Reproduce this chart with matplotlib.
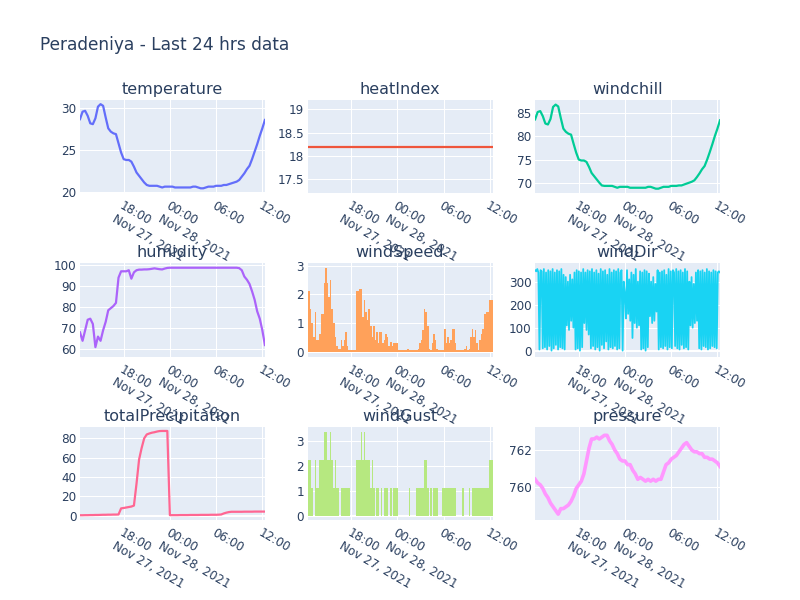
import matplotlib
matplotlib.use("Agg")
import matplotlib.pyplot as plt
import numpy as np
from matplotlib.transforms import offset_copy

plt.rcParams['font.family'] = ['DejaVu Sans']

# ---------------- data (hours since Nov 27 2021 00:00) ----------------
t_start, t_end = 12.333, 36.333

x_ticks = [18, 24, 30, 36]
x_tick_labels = ["18:00\nNov 27, 2021", "00:00\nNov 28, 2021", "06:00", "12:00"]

temperature = [
    28.7, 29.6, 29.7, 29.1, 28.2, 28.1, 28.8, 30.2, 30.5, 30.3,
    28.9, 27.6, 27.2, 27.0, 26.9, 25.8, 24.7, 23.9, 23.8, 23.8,
    23.6, 23.0, 22.3, 21.9, 21.5, 21.1, 20.8, 20.7, 20.7, 20.7,
    20.7, 20.6, 20.5, 20.6, 20.6, 20.6, 20.6, 20.5, 20.5, 20.5,
    20.5, 20.5, 20.5, 20.5, 20.6, 20.6, 20.5, 20.4, 20.4, 20.5,
    20.6, 20.6, 20.6, 20.7, 20.7, 20.7, 20.8, 20.8, 20.9, 21.0,
    21.1, 21.2, 21.4, 21.8, 22.2, 22.7, 23.1, 23.9, 24.8, 25.7,
    26.7, 27.6, 28.6]

heat_index = [18.2, 18.2]

windchill = [
    83.7, 85.3, 85.5, 84.4, 82.8, 82.6, 83.8, 86.4, 86.9, 86.5,
    84.0, 81.7, 81.0, 80.6, 80.4, 78.4, 76.5, 75.0, 74.8, 74.8,
    74.5, 73.4, 72.1, 71.4, 70.7, 70.0, 69.4, 69.3, 69.3, 69.3,
    69.3, 69.1, 68.9, 69.1, 69.1, 69.1, 69.1, 68.9, 68.9, 68.9,
    68.9, 68.9, 68.9, 68.9, 69.1, 69.1, 68.9, 68.7, 68.7, 68.9,
    69.1, 69.1, 69.1, 69.3, 69.3, 69.3, 69.4, 69.4, 69.6, 69.8,
    70.0, 70.2, 70.5, 71.2, 72.0, 72.9, 73.6, 75.0, 76.6, 78.3,
    80.1, 81.7, 83.5]

humidity = [
    68.0, 64.0, 69.0, 74.0, 74.5, 72.0, 61.0, 66.0, 64.0, 69.0,
    73.0, 78.5, 79.5, 80.5, 82.0, 94.0, 97.0, 97.0, 97.0, 97.5,
    93.5, 96.5, 97.5, 97.8, 97.8, 97.9, 97.9, 98.0, 98.2, 98.4,
    98.2, 98.0, 97.9, 98.3, 98.6, 98.7, 98.7, 98.7, 98.7, 98.7,
    98.7, 98.7, 98.7, 98.7, 98.7, 98.7, 98.7, 98.7, 98.7, 98.7,
    98.7, 98.7, 98.7, 98.7, 98.7, 98.7, 98.7, 98.7, 98.7, 98.7,
    98.7, 98.7, 98.5, 97.5, 94.5, 93.0, 91.0, 87.5, 83.5, 78.0,
    74.5, 69.0, 62.0]

total_precipitation = [
    0.5, 0.5, 0.6, 0.6, 0.7, 0.7, 0.8, 0.8, 0.9, 1.0,
    1.0, 1.1, 1.1, 1.2, 1.2, 1.3, 7.6, 8.0, 8.5, 9.0,
    9.5, 10.5, 33.0, 58.0, 70.0, 80.0, 84.0, 85.0, 85.8, 86.3,
    87.0, 87.5, 87.6, 87.6, 87.6, 0.6, 0.6, 0.6, 0.6, 0.7,
    0.7, 0.7, 0.7, 0.8, 0.8, 0.8, 0.8, 0.9, 0.9, 0.9,
    0.9, 1.0, 1.0, 1.0, 1.1, 1.3, 2.4, 3.2, 3.8, 4.1,
    4.1, 4.1, 4.1, 4.1, 4.2, 4.2, 4.2, 4.2, 4.3, 4.3,
    4.3, 4.3, 4.3]

pressure = [
    760.4, 760.2, 760.1, 759.9, 759.6, 759.4, 759.1, 758.9, 758.7, 758.5,
    758.8, 758.8, 758.9, 759.0, 759.2, 759.5, 759.9, 760.1, 760.3, 760.7,
    761.4, 762.1, 762.6, 762.6, 762.7, 762.6, 762.7, 762.8, 762.8, 762.5,
    762.3, 762.0, 761.8, 761.5, 761.4, 761.4, 761.2, 761.2, 760.9, 760.7,
    760.4, 760.5, 760.4, 760.3, 760.4, 760.3, 760.4, 760.3, 760.4, 760.4,
    760.8, 761.2, 761.3, 761.5, 761.6, 761.7, 761.9, 762.1, 762.3, 762.4,
    762.2, 762.0, 761.9, 761.9, 761.8, 761.8, 761.6, 761.6, 761.5, 761.5,
    761.4, 761.3, 761.1]

wind_speed = [
    1.7, 2.1, 1.5, 1.0, 0.5, 1.4, 0.4, 0.4, 0.6, 1.3,
    1.3, 2.4, 2.9, 2.4, 1.9, 2.5, 1.5, 1.0, 0.5, 0.2,
    0.1, 0.1, 0.4, 0.2, 0.4, 0.7, 0.2, 0.05, 0.05, 0.05,
    0.05, 0.05, 2.1, 2.1, 2.2, 2.2, 1.2, 1.8, 1.4, 1.1,
    1.5, 0.9, 0.5, 0.9, 0.4, 0.7, 0.3, 0.7, 0.7, 0.3,
    0.4, 0.6, 0.5, 0.2, 0.35, 0.2, 0.3, 0.3, 0.3, 0.05,
    0.05, 0.05, 0.05, 0.05, 0.05, 0.1, 0.05, 0.05, 0.05, 0.05,
    0.05, 0.05, 0.1, 0.3, 0.4, 0.75, 1.5, 1.4, 0.9, 0.1,
    0.05, 0.3, 0.6, 0.4, 0.1, 0.05, 0.05, 0.05, 0.05, 0.8,
    0.3, 0.5, 0.3, 0.4, 0.8, 0.8, 0.3, 0.05, 0.05, 0.05,
    0.05, 0.05, 0.1, 0.2, 0.05, 0.1, 0.5, 0.8, 0.5, 0.75,
    0.3, 0.05, 0.4, 0.6, 0.8, 1.3, 1.4, 1.4, 1.8, 1.8,
    1.8]

wind_gust = [
    2.24, 2.24, 2.24, 1.12, 0, 2.24, 1.12, 1.12, 2.24, 2.24,
    2.24, 3.36, 3.36, 2.24, 2.24, 3.36, 2.24, 1.12, 2.24, 1.12,
    1.12, 0, 1.12, 1.12, 1.12, 1.12, 1.12, 1.12, 0, 0,
    0, 0, 2.24, 2.24, 2.24, 3.36, 2.24, 3.36, 2.24, 2.24,
    2.24, 1.12, 2.24, 1.12, 0, 1.12, 1.12, 0, 1.12, 0,
    1.12, 1.12, 1.12, 0, 1.12, 0, 1.12, 1.12, 1.12, 0,
    0, 0, 0, 0, 0, 0, 1.12, 0, 0, 0,
    0, 1.12, 1.12, 1.12, 1.12, 1.12, 2.24, 2.24, 1.12, 0,
    1.12, 0, 1.12, 1.12, 1.12, 0, 0, 0, 1.12, 1.12,
    1.12, 1.12, 1.12, 1.12, 1.12, 1.12, 1.12, 0, 0, 0,
    0, 1.12, 0, 0, 0, 1.12, 0, 1.12, 1.12, 1.12,
    1.12, 1.12, 1.12, 1.12, 1.12, 1.12, 1.12, 1.12, 2.24, 2.24,
    2.24]

wind_dir = [
    350, 345, 355, 340, 5, 350, 345, 10,
    355, 15, 340, 5, 350, 20, 345, 0, 355, 10, 340, 25, 350, 5, 345, 15, 355, 10, 330, 5,
    320, 110, 300, 90, 330, 130, 310, 100, 340,
    5, 350, 10, 345, 0, 340, 15, 355,
    120, 340, 90, 350, 70,
    345, 10, 355, 20, 340, 5, 350, 15, 335, 0, 355, 25, 345, 10, 350, 40,
    330, 5, 355, 15, 340, 10, 350, 20, 345, 5, 355, 10, 340, 350, 0,
    300, 250, 140, 350, 160, 310, 130, 340,
    55, 330, 120, 355, 100, 300, 110,
    345, 5, 340, 10, 350, 0, 345, 15, 335,
    150, 300, 120, 320, 130, 290, 170, 350,
    5, 340, 15, 345, 10, 350, 20, 330, 5, 355, 15, 345, 10, 350, 340,
    20, 355, 10, 345, 5, 350, 25, 340, 10, 355, 15, 345, 5, 300,
    110, 320, 100, 290, 120, 340, 130,
    350, 10, 345, 5, 350, 20, 340, 15, 355, 5, 345, 10, 340, 20, 350,
    15, 345, 10, 340, 345, 340]

# ---------------- layout ----------------
TXT = '#2a3f5f'
BG = '#E5ECF6'
fig = plt.figure(figsize=(8, 6), dpi=100)
fig.text(40 / 800, 1 - 45 / 600, "Peradeniya - Last 24 hrs data", fontsize=12.24,
         color=TXT, ha='left', va='center')

col_left = [80, 307.6, 535.1]
col_w = 184.9
row_top = [100, 263.3, 426.7]
row_h = 93.3


def make_ax(r, c, title, ylim, yticks, yticklabels=None):
    ax = fig.add_axes([col_left[c] / 800, 1 - (row_top[r] + row_h) / 600,
                       col_w / 800, row_h / 600])
    ax.set_facecolor(BG)
    for s in ax.spines.values():
        s.set_visible(False)
    ax.set_xlim(t_start, t_end)
    ax.set_ylim(*ylim)
    ax.set_yticks(yticks)
    if yticklabels is not None:
        ax.set_yticklabels(yticklabels)
    ax.set_xticks(x_ticks)
    ax.set_xticklabels(x_tick_labels, rotation=-30, ha='left', va='top',
                       rotation_mode='anchor')
    for lbl in ax.get_xticklabels():
        lbl.set_multialignment('left')
    ax.tick_params(axis='both', length=0, labelsize=8.64, labelcolor=TXT)
    ax.tick_params(axis='x', pad=4.5)
    ax.tick_params(axis='y', pad=2.5)
    ax.grid(True, color='white', linewidth=0.75)
    ax.set_axisbelow(True)
    if ylim[0] < 0 < ylim[1]:
        ax.axhline(0, color='white', linewidth=1.5, zorder=0.5)
    ax.text(0.5, 1.0, title,
            transform=offset_copy(ax.transAxes, fig=fig, y=3, units='dots'),
            ha='center', va='bottom', fontsize=11.52, color=TXT)
    return ax


def times(n):
    return np.linspace(t_start, t_end, n)


LW = 1.6

ax = make_ax(0, 0, "temperature", (19.8, 31.0), [20, 25, 30])
ax.plot(times(len(temperature)), temperature, color='#636EFA', lw=LW)

ax = make_ax(0, 1, "heatIndex", (17.2, 19.2), [17.5, 18, 18.5, 19],
             ["17.5", "18", "18.5", "19"])
ax.plot(times(len(heat_index)), heat_index, color='#EF553B', lw=LW)

ax = make_ax(0, 2, "windchill", (67.7, 87.9), [70, 75, 80, 85])
ax.plot(times(len(windchill)), windchill, color='#00CC96', lw=LW)

ax = make_ax(1, 0, "humidity", (56.5, 100.8), [60, 70, 80, 90, 100])
ax.plot(times(len(humidity)), humidity, color='#AB63FA', lw=LW)

ax = make_ax(1, 1, "windSpeed", (-0.17, 3.08), [0, 1, 2, 3])
tw = times(len(wind_speed))
ax.bar(tw, wind_speed, width=(tw[1] - tw[0]), color='#FFA15A', linewidth=0, zorder=2)

ax = make_ax(1, 2, "windDir", (-26, 380), [0, 100, 200, 300])
ax.plot(times(len(wind_dir)), wind_dir, color='#19D3F3', lw=1.3)

ax = make_ax(2, 0, "totalPrecipitation", (-4.4, 92), [0, 20, 40, 60, 80])
ax.plot(times(len(total_precipitation)), total_precipitation, color='#FF6692', lw=LW)

ax = make_ax(2, 1, "windGust", (-0.17, 3.56), [0, 1, 2, 3])
tg = times(len(wind_gust))
ax.bar(tg, wind_gust, width=(tg[1] - tg[0]), color='#B6E880', linewidth=0, zorder=2)

ax = make_ax(2, 2, "pressure", (758.18, 763.27), [760, 762])
ax.plot(times(len(pressure)), pressure, color='#FF97FF', lw=2.6)

fig.savefig("out.png", dpi=100)
